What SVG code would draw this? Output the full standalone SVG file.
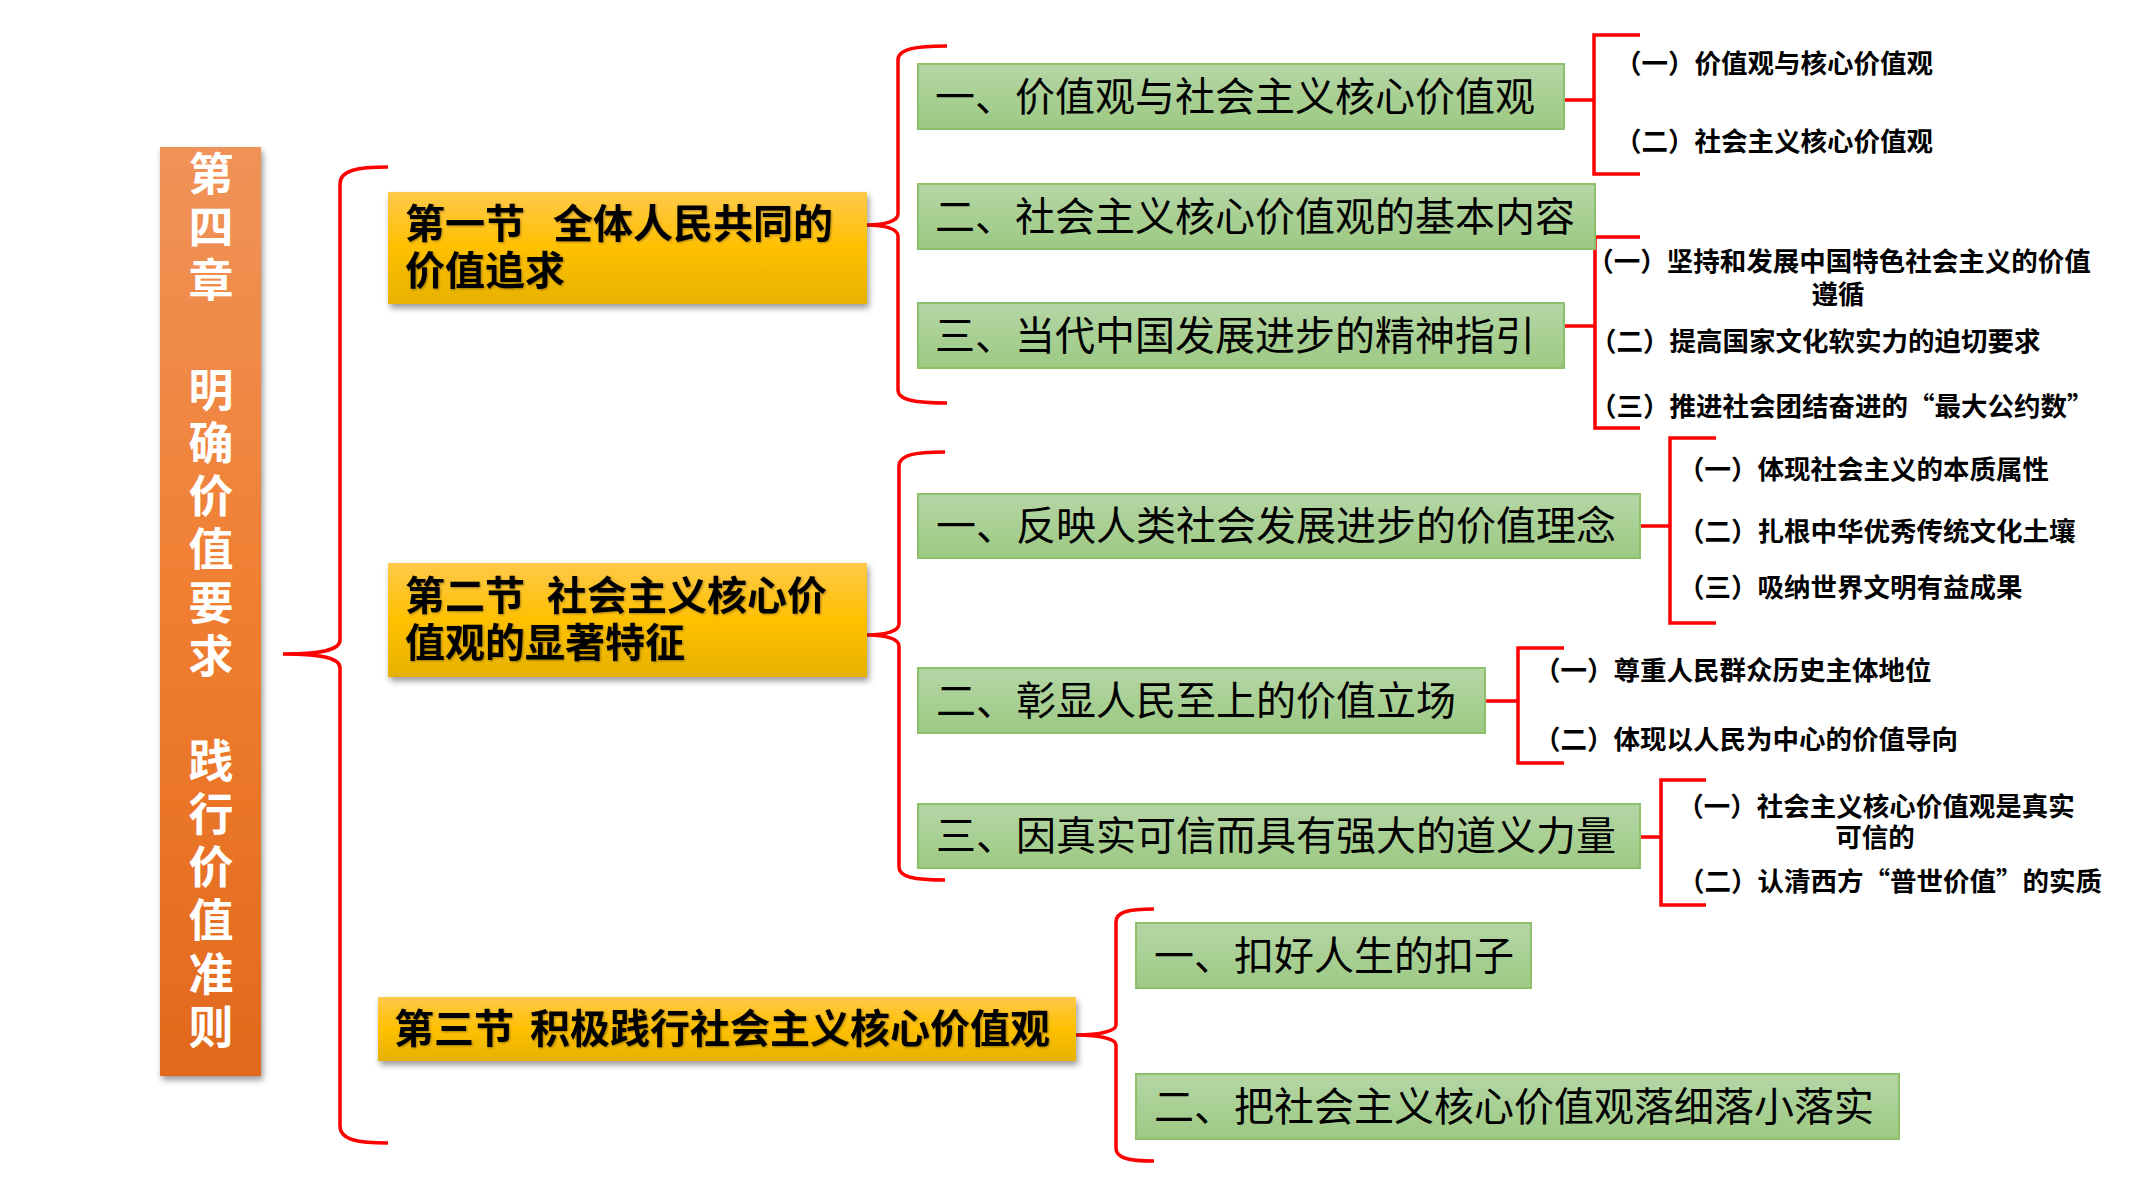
<svg xmlns="http://www.w3.org/2000/svg" width="2133" height="1200" viewBox="0 0 2133 1200">
<defs>
<linearGradient id="og" x1="0" y1="0" x2="0" y2="1">
<stop offset="0" stop-color="#F0935A"/><stop offset="0.5" stop-color="#F07E30"/><stop offset="1" stop-color="#E1691D"/>
</linearGradient>
<linearGradient id="yg" x1="0" y1="0" x2="0" y2="1">
<stop offset="0" stop-color="#FFC94A"/><stop offset="0.5" stop-color="#FFC000"/><stop offset="1" stop-color="#E6B200"/>
</linearGradient>
<linearGradient id="gg" x1="0" y1="0" x2="0" y2="1">
<stop offset="0" stop-color="#B5D6A6"/><stop offset="1" stop-color="#9DC983"/>
</linearGradient>
<filter id="sh" x="-10%" y="-20%" width="120%" height="150%">
<feDropShadow dx="2" dy="4" stdDeviation="3" flood-color="#000" flood-opacity="0.4"/>
</filter>
<filter id="ts" x="-5%" y="-20%" width="110%" height="140%">
<feDropShadow dx="1" dy="1" stdDeviation="1" flood-color="#000" flood-opacity="0.35"/>
</filter>
</defs>
<style>
text{font-family:"Noto Sans CJK SC","Noto Sans",sans-serif;dominant-baseline:central}
.br{fill:none;stroke:#FF0000;stroke-width:3.5}
.gb{fill:url(#gg);stroke:#8CC06A;stroke-width:2}
.yb{fill:url(#yg);filter:url(#sh)}
.gt{font-size:40px;fill:#000}
.st{font-size:26.5px;font-weight:700;fill:#000}
.yt{font-size:40px;font-weight:700;fill:#000}
.ot{font-size:45px;font-weight:700;fill:#fff;writing-mode:vertical-rl;text-orientation:upright;letter-spacing:8.3px}
.c{text-anchor:middle}
</style>
<rect width="2133" height="1200" fill="#fff"/>

<g id="chapter">
<rect x="160" y="147" width="101" height="929" fill="url(#og)" filter="url(#sh)"/>
<text class="ot" x="211" y="151">第四章</text>
<text class="ot" x="211" y="367">明确价值要求</text>
<text class="ot" x="211" y="738">践行价值准则</text>
</g>

<g id="connectors">
<path class="br" d="M388,167 C358,167 340,170 340,184 L340,640 C340,650 322,654 283,654 C322,654 340,658 340,668 L340,1126 C340,1140 358,1143 388,1143"/>
<path class="br" d="M947,46 C915,46 898,49 898,60 L898,214 C898,221 885,225 867,225 C885,225 898,229 898,236 L898,390 C898,400 915,403 947,403"/>
<path class="br" d="M945,452 C914,452 899,455 899,466 L899,624 C899,631 886,635 867,635 C886,635 899,639 899,646 L899,867 C899,877 914,880 945,880"/>
<path class="br" d="M1154,909 C1128,909 1116,912 1116,922 L1116,1025 C1116,1031 1100,1035 1076,1035 C1100,1035 1116,1039 1116,1045 L1116,1148 C1116,1158 1128,1161 1154,1161"/>
<path class="br" d="M1564,100 H1594 M1640,35 H1594 V174 H1640"/>
<path class="br" d="M1564,326 H1595 M1640,237 H1595 V428 H1640"/>
<path class="br" d="M1640,526 H1670 M1716,438 H1670 V623 H1716"/>
<path class="br" d="M1485,701 H1518 M1564,648 H1518 V763 H1564"/>
<path class="br" d="M1640,837 H1661 M1706,780 H1661 V905 H1706"/>
</g>

<g id="sec1">
<rect class="yb" x="388" y="192" width="479" height="112"/>
<text class="yt" filter="url(#ts)"><tspan x="405" y="221">第一节</tspan><tspan dx="28">全体人民共同的</tspan><tspan x="405" y="268">价值追求</tspan></text>
</g>
<g id="sec2">
<rect class="yb" x="388" y="563" width="479" height="114"/>
<text class="yt" filter="url(#ts)"><tspan x="405" y="593">第二节</tspan><tspan dx="22">社会主义核心价</tspan><tspan x="405" y="640">值观的显著特征</tspan></text>
</g>
<g id="sec3">
<rect class="yb" x="378" y="997" width="698" height="64"/>
<text class="yt" x="394" y="1026" filter="url(#ts)">第三节<tspan dx="16">积极践行社会主义核心价值观</tspan></text>
</g>

<g id="s1-1"><rect class="gb" x="918" y="64" width="646" height="65"/><text class="gt" x="935" y="94">一、价值观与社会主义核心价值观</text></g>
<g id="s1-2"><rect class="gb" x="918" y="184" width="677" height="65"/><text class="gt" x="935" y="214">二、社会主义核心价值观的基本内容</text></g>
<g id="s1-3"><rect class="gb" x="918" y="303" width="646" height="65"/><text class="gt" x="935" y="333">三、当代中国发展进步的精神指引</text></g>
<g id="s2-1"><rect class="gb" x="918" y="494" width="722" height="64"/><text class="gt" x="936" y="523">一、反映人类社会发展进步的价值理念</text></g>
<g id="s2-2"><rect class="gb" x="918" y="668" width="567" height="65"/><text class="gt" x="936" y="698">二、彰显人民至上的价值立场</text></g>
<g id="s2-3"><rect class="gb" x="918" y="804" width="722" height="64"/><text class="gt" x="936" y="833">三、因真实可信而具有强大的道义力量</text></g>
<g id="s3-1"><rect class="gb" x="1136" y="923" width="395" height="65"/><text class="gt" x="1154" y="953">一、扣好人生的扣子</text></g>
<g id="s3-2"><rect class="gb" x="1136" y="1074" width="763" height="65"/><text class="gt" x="1154" y="1104">二、把社会主义核心价值观落细落小落实</text></g>

<g id="t1-1-1"><text class="st" x="1615" y="61">（一）价值观与核心价值观</text></g>
<g id="t1-1-2"><text class="st" x="1615" y="139">（二）社会主义核心价值观</text></g>
<g id="t1-3-1"><text class="st c"><tspan x="1839" y="259">（一）坚持和发展中国特色社会主义的价值</tspan><tspan x="1838" y="292">遵循</tspan></text></g>
<g id="t1-3-2"><text class="st" x="1590" y="339">（二）提高国家文化软实力的迫切要求</text></g>
<g id="t1-3-3"><text class="st" x="1590" y="404">（三）推进社会团结奋进的“最大公约数”</text></g>
<g id="t2-1-1"><text class="st" x="1678" y="467">（一）体现社会主义的本质属性</text></g>
<g id="t2-1-2"><text class="st" x="1678" y="529">（二）扎根中华优秀传统文化土壤</text></g>
<g id="t2-1-3"><text class="st" x="1678" y="585">（三）吸纳世界文明有益成果</text></g>
<g id="t2-2-1"><text class="st" x="1534" y="668">（一）尊重人民群众历史主体地位</text></g>
<g id="t2-2-2"><text class="st" x="1534" y="737">（二）体现以人民为中心的价值导向</text></g>
<g id="t2-3-1"><text class="st c"><tspan x="1876" y="804">（一）社会主义核心价值观是真实</tspan><tspan x="1875" y="835">可信的</tspan></text></g>
<g id="t2-3-2"><text class="st" x="1678" y="879">（二）认清西方“普世价值”的实质</text></g>
</svg>
